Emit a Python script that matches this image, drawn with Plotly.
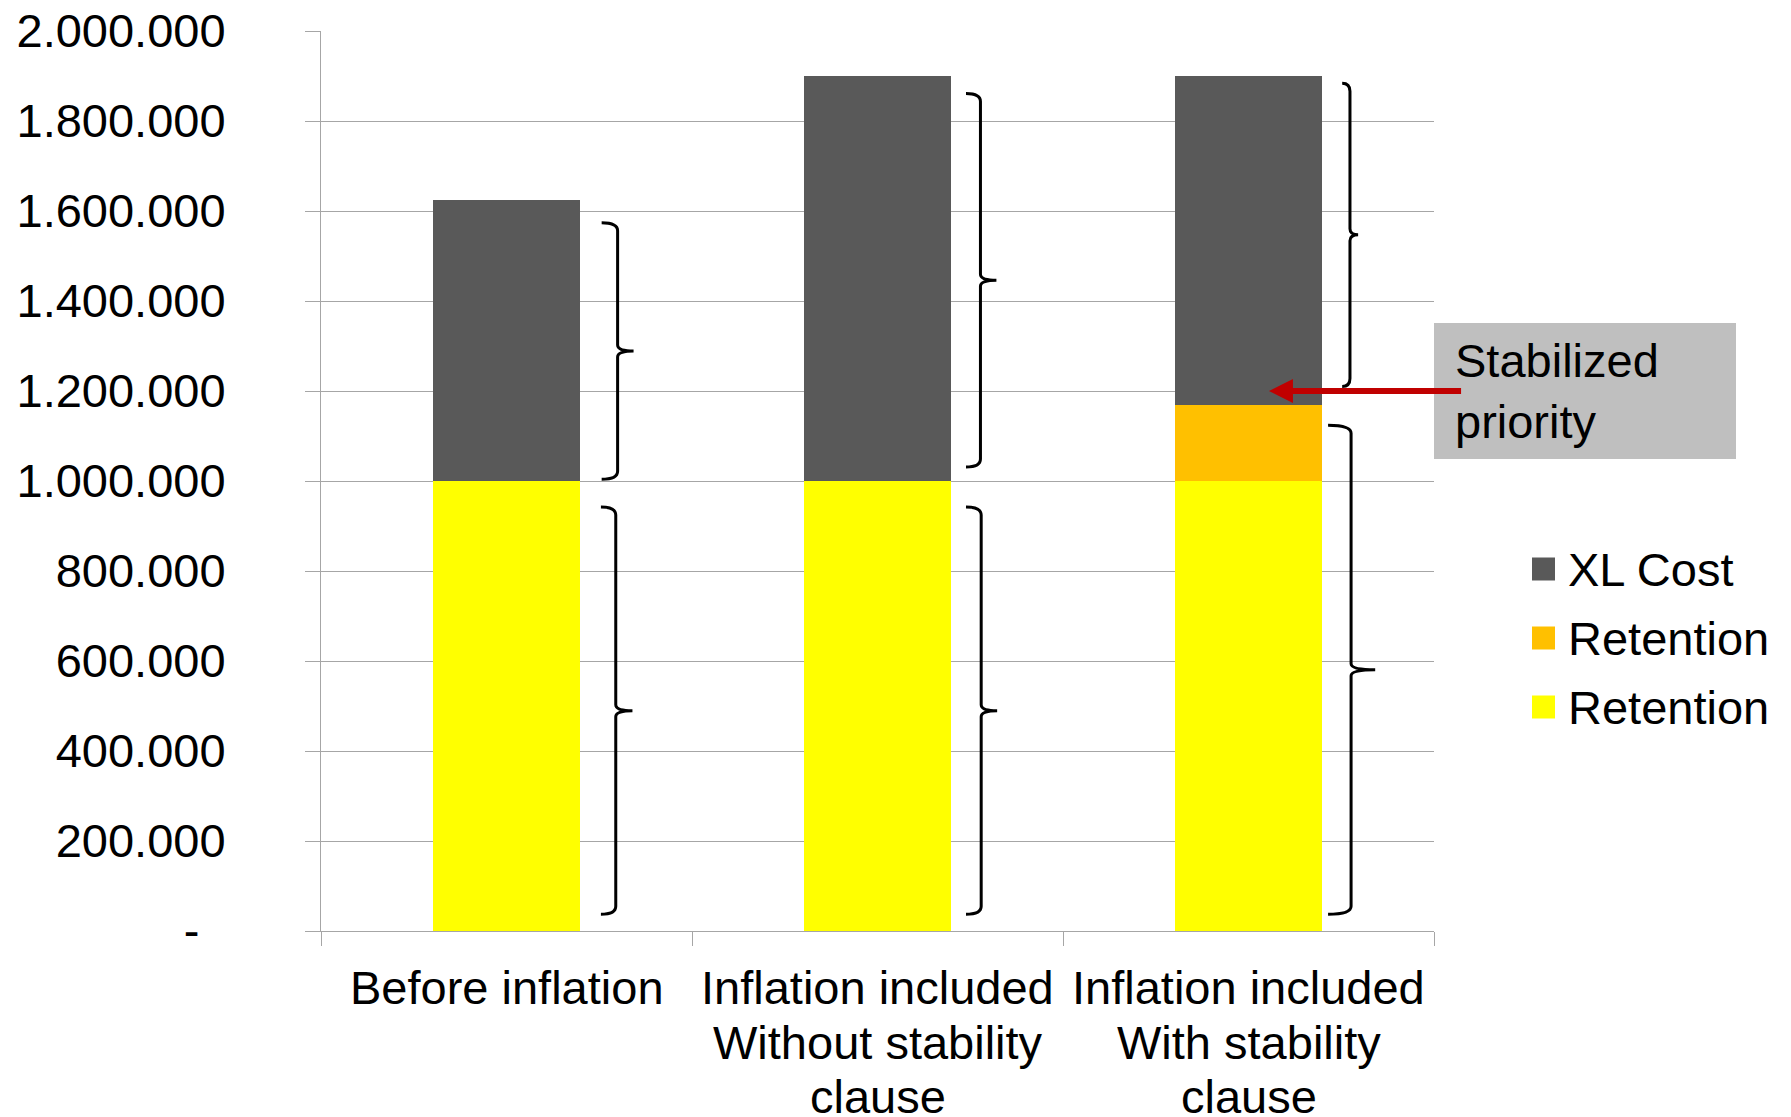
import plotly.graph_objects as go

# ---- data -------------------------------------------------------------
categories = [
    "Before inflation",
    "Inflation included<br>Without stability<br>clause",
    "Inflation included<br>With stability<br>clause",
]
retention_base = [1000000, 1000000, 1000000]      # yellow
retention_stabilized = [0, 0, 170000]            # orange
xl_cost = [625000, 900000, 730000]               # dark grey

series_names = ["Retention", "Retention", "XL Cost"]
series_colors = ["#FFFF00", "#FFC000", "#595959"]

y_tick_values = [0, 200000, 400000, 600000, 800000, 1000000,
                 1200000, 1400000, 1600000, 1800000, 2000000]
y_tick_labels = ["-\u00a0\u00a0", "200.000", "400.000", "600.000", "800.000",
                 "1.000.000", "1.200.000", "1.400.000", "1.600.000",
                 "1.800.000", "2.000.000"]

# braces to the right of each bar: (bar index, low value, high value,
# hook / spine / tip offsets from the bar's right edge in category units)
braces = [
    (0, 1004000, 1574000, 0.058, 0.101, 0.144),
    (0, 37000, 942000, 0.056, 0.096, 0.141),
    (1, 1031000, 1861000, 0.040, 0.079, 0.122),
    (1, 37000, 942000, 0.040, 0.081, 0.124),
    (2, 1210000, 1884000, 0.054, 0.075, 0.097),
    (2, 37000, 1124000, 0.016, 0.078, 0.143),
]

callout_text = "Stabilized<br>priority"
callout_level = 1200000

# ---- geometry ---------------------------------------------------------
W, H = 1791, 1117
ML, MR, MT, MB = 321, 357, 31, 186
PW, PH = W - ML - MR, H - MT - MB
Y_MAX = 2000000
BAR_W = 0.397
GRID = "#A6A6A6"
FONT = "Liberation Sans, Arial, sans-serif"
FS = 47
LABEL_TOP = 988      # page y of the first category-label line
LABEL_STEP = 54      # line pitch of the category labels


def px_x(px):
    """page pixel -> paper x"""
    return (px - ML) / PW


def px_y(py):
    """page pixel -> paper y"""
    return (H - MB - py) / PH


def val_per_px():
    return Y_MAX / PH


x_pos = list(range(len(categories)))

fig = go.Figure()
stack = [retention_base, retention_stabilized, xl_cost]
for vals, name, color in zip(stack, series_names, series_colors):
    fig.add_trace(go.Bar(
        x=x_pos, y=vals, name=name, width=BAR_W,
        marker=dict(color=color, line=dict(width=0)),
        showlegend=False, hoverinfo="skip",
    ))

shapes = []
# curly braces
ry = 8 * val_per_px()
rm = 6 * val_per_px()
for idx, lo, hi, dh, ds, dt in braces:
    edge = x_pos[idx] + BAR_W / 2
    xh, xs, xt = edge + dh, edge + ds, edge + dt
    mid = (lo + hi) / 2
    path = (f"M{xh},{hi} Q{xs},{hi} {xs},{hi - ry} "
            f"L{xs},{mid + rm} Q{xs},{mid} {xt},{mid} "
            f"Q{xs},{mid} {xs},{mid - rm} "
            f"L{xs},{lo + ry} Q{xs},{lo} {xh},{lo}")
    shapes.append(dict(type="path", path=path, xref="x", yref="y",
                       line=dict(color="black", width=3), layer="above"))

# callout box
shapes.append(dict(type="rect", xref="paper", yref="paper",
                   x0=px_x(1434), x1=px_x(1736), y0=px_y(459), y1=px_y(323),
                   fillcolor="#BFBFBF", line=dict(width=0), layer="above"))

annotations = [
    dict(text=callout_text, xref="paper", yref="y",
         x=px_x(1453), y=callout_level, xanchor="left", yanchor="middle",
         align="left", showarrow=False,
         font=dict(family=FONT, size=FS, color="black")),
    dict(text="", xref="x", yref="y", axref="x", ayref="y",
         x=2.055, y=callout_level, ax=2.577, ay=callout_level,
         showarrow=True, arrowhead=2, arrowsize=0.8, arrowwidth=6,
         arrowcolor="#C00000"),
]

# category labels, one annotation per line for a tight line pitch
for xi, label in zip(x_pos, categories):
    for k, line in enumerate(label.split("<br>")):
        annotations.append(dict(
            text=line, xref="x", yref="paper", x=xi,
            y=px_y(LABEL_TOP + k * LABEL_STEP),
            xanchor="center", yanchor="middle", showarrow=False,
            font=dict(family=FONT, size=FS, color="black")))

# legend (top entry is the top of the stack)
legend_rows = [569, 638, 707]
for row_y, name, color in zip(legend_rows, series_names[::-1], series_colors[::-1]):
    shapes.append(dict(type="rect", xref="paper", yref="paper",
                       x0=px_x(1532), x1=px_x(1555),
                       y0=px_y(row_y + 11.5), y1=px_y(row_y - 11.5),
                       fillcolor=color, line=dict(width=0)))
    annotations.append(dict(text=name, xref="paper", yref="paper",
                            x=px_x(1566), y=px_y(row_y), xanchor="left",
                            yanchor="middle", showarrow=False,
                            font=dict(family=FONT, size=FS, color="black")))

fig.update_layout(
    width=W, height=H,
    margin=dict(l=ML, r=MR, t=MT, b=MB, autoexpand=False),
    paper_bgcolor="white", plot_bgcolor="white",
    barmode="stack", showlegend=False,
    font=dict(family=FONT, size=FS, color="black"),
    shapes=shapes, annotations=annotations,
    xaxis=dict(
        range=[-0.5, 2.5], tickmode="array", tickvals=x_pos,
        showticklabels=False,
        ticks="", showline=True, linecolor=GRID, linewidth=1,
        showgrid=False, zeroline=False,
        minor=dict(tickmode="array", tickvals=[-0.5, 0.5, 1.5, 2.5],
                   ticks="outside", ticklen=14, tickcolor=GRID, tickwidth=1,
                   showgrid=False),
    ),
    yaxis=dict(
        range=[0, Y_MAX], tickmode="array", tickvals=y_tick_values,
        ticktext=y_tick_labels, ticks="outside", ticklen=15,
        tickcolor=GRID, tickwidth=1, showline=True, linecolor=GRID,
        linewidth=1, showgrid=True, gridcolor=GRID, gridwidth=1,
        zeroline=False, ticklabelstandoff=70,
        tickfont=dict(family=FONT, size=FS, color="black"),
    ),
)

fig.write_html("out.html")
